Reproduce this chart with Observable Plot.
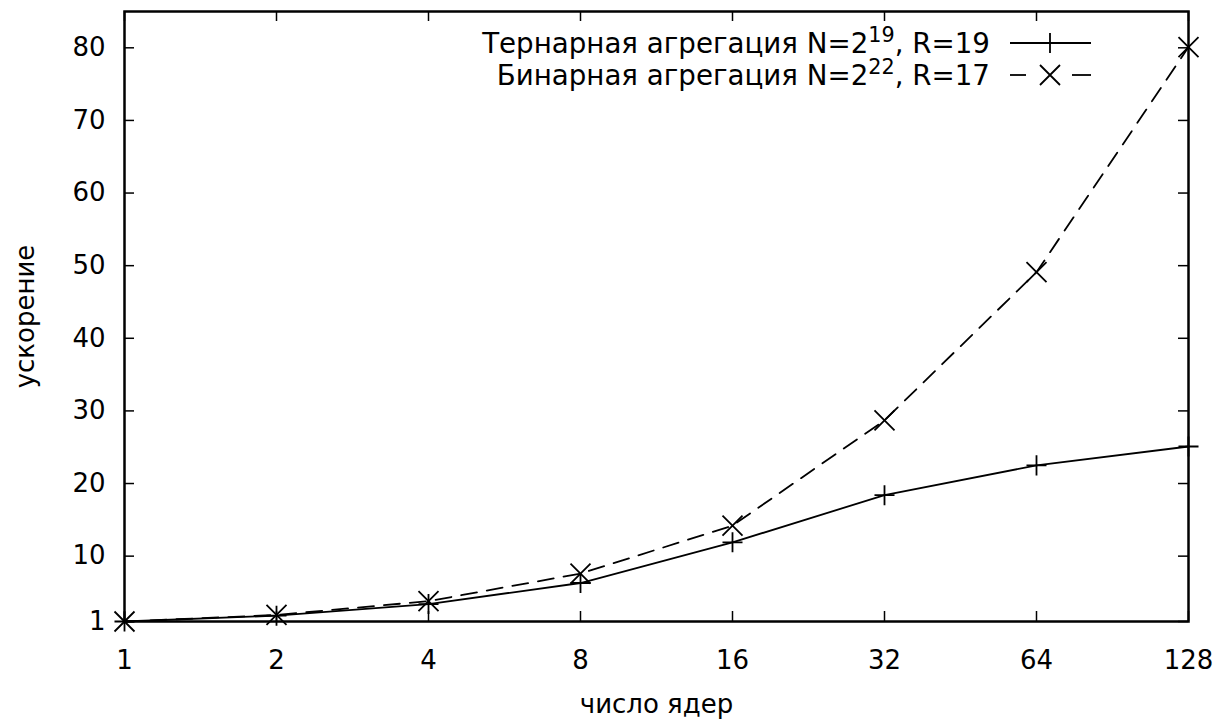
<!DOCTYPE html>
<html><head><meta charset="utf-8">
<script src="https://cdn.jsdelivr.net/npm/d3@7"></script>
<script src="https://cdn.jsdelivr.net/npm/@observablehq/plot@0.6"></script>
<style>body{margin:0;background:#fff} svg{display:block}</style>
</head><body><div id="chart"></div>
<script>
// ---- data ----
const cores = [1, 2, 4, 8, 16, 32, 64, 128];
const ternary = [1, 1.8, 3.4, 6.3, 11.9, 18.4, 22.5, 25.1];
const binary = [1, 1.9, 3.8, 7.6, 14.2, 28.7, 49.1, 80.1];
const xTicks = [1, 2, 4, 8, 16, 32, 64, 128];
const yTicks = [1, 10, 20, 30, 40, 50, 60, 70, 80];
const seriesLabels = [
  {pre: "Тернарная агрегация N=2", sup: "19", post: ", R=19"},
  {pre: "Бинарная агрегация N=2", sup: "22", post: ", R=17"}
];
const xLabel = "число ядер";
const yLabel = "ускорение";

// ---- layout ----
const W = 1230, H = 720, mL = 124, mR = 42, mT = 11, mB = 99;
const innerH = H - mT - mB, innerW = W - mL - mR;
const font = "DejaVu Sans";
const fs = 26;
const fsKey = 27.7;
const tk = 10;
const lw = 1.8;
const dash = "16,10";

const tern = cores.map((c, i) => ({c, v: ternary[i]}));
const bin = cores.map((c, i) => ({c, v: binary[i]}));

const plot = Plot.plot({
  width: W, height: H,
  marginLeft: mL, marginRight: mR, marginTop: mT, marginBottom: mB,
  style: {fontFamily: font, fontSize: fs + "px", background: "white", color: "black"},
  x: {type: "log", base: 2, domain: [1, 128]},
  y: {domain: [1, 85]},
  marks: [
    Plot.axisX(xTicks, {tickSize: 0, tickPadding: 29, tickFormat: d => String(d), label: null, fontSize: fs}),
    Plot.axisY(yTicks, {tickSize: 0, tickPadding: 19, tickFormat: d => String(d), label: null, fontSize: fs}),
    Plot.tickX(xTicks, {x: d => d, insetTop: innerH - tk, stroke: "black", strokeWidth: 1.5}),
    Plot.tickX(xTicks, {x: d => d, insetBottom: innerH - tk, stroke: "black", strokeWidth: 1.5}),
    Plot.tickY(yTicks, {y: d => d, insetRight: innerW - tk, stroke: "black", strokeWidth: 1.5}),
    Plot.tickY(yTicks, {y: d => d, insetLeft: innerW - tk, stroke: "black", strokeWidth: 1.5}),
    Plot.line(tern, {x: "c", y: "v", stroke: "black", strokeWidth: lw}),
    Plot.line(bin, {x: "c", y: "v", stroke: "black", strokeWidth: lw, strokeDasharray: dash}),
    Plot.dot(tern, {x: "c", y: "v", symbol: "plus", r: 6.5, stroke: "black", strokeWidth: lw}),
    Plot.dot(bin, {x: "c", y: "v", symbol: "times", r: 9.15, stroke: "black", strokeWidth: lw}),
    Plot.frame({stroke: "black", strokeWidth: 2.5}),
    Plot.text([xLabel], {text: d => d, frameAnchor: "bottom", lineAnchor: "middle", textAnchor: "middle", dy: 83, fontSize: fs, fill: "black"}),
    Plot.text([yLabel], {text: d => d, frameAnchor: "left", lineAnchor: "middle", textAnchor: "middle", dx: -99, rotate: -90, fontSize: fs, fill: "black"})
  ]
});
document.getElementById("chart").appendChild(plot);

// ---- legend (key) ----
const svg = d3.select(plot);
const key = svg.append("g").attr("font-family", font).attr("font-size", fsKey);
const rows = [
  {y: 43, sym: d3.symbolPlus, size: 132.4, dashed: false},
  {y: 75, sym: d3.symbolTimes, size: 263, dashed: true}
];
rows.forEach((r, i) => {
  const lab = seriesLabels[i];
  const t = key.append("text").attr("x", 990).attr("y", r.y).attr("dy", "0.35em")
    .attr("text-anchor", "end").attr("fill", "black");
  t.append("tspan").text(lab.pre);
  t.append("tspan").attr("font-size", "0.75em").attr("dy", "-0.5em").text(lab.sup);
  t.append("tspan").attr("dy", "0.375em").text(lab.post);
  if (r.dashed) {
    [[1010, 1026], [1072, 1091]].forEach(([a, b]) =>
      key.append("line").attr("x1", a).attr("x2", b).attr("y1", r.y).attr("y2", r.y)
        .attr("stroke", "black").attr("stroke-width", lw));
  } else {
    key.append("line").attr("x1", 1010).attr("x2", 1091).attr("y1", r.y).attr("y2", r.y)
      .attr("stroke", "black").attr("stroke-width", lw);
  }
  key.append("path").attr("d", d3.symbol(r.sym, r.size)())
    .attr("transform", `translate(1050,${r.y})`)
    .attr("fill", "none").attr("stroke", "black").attr("stroke-width", lw);
});
</script>
</body></html>
